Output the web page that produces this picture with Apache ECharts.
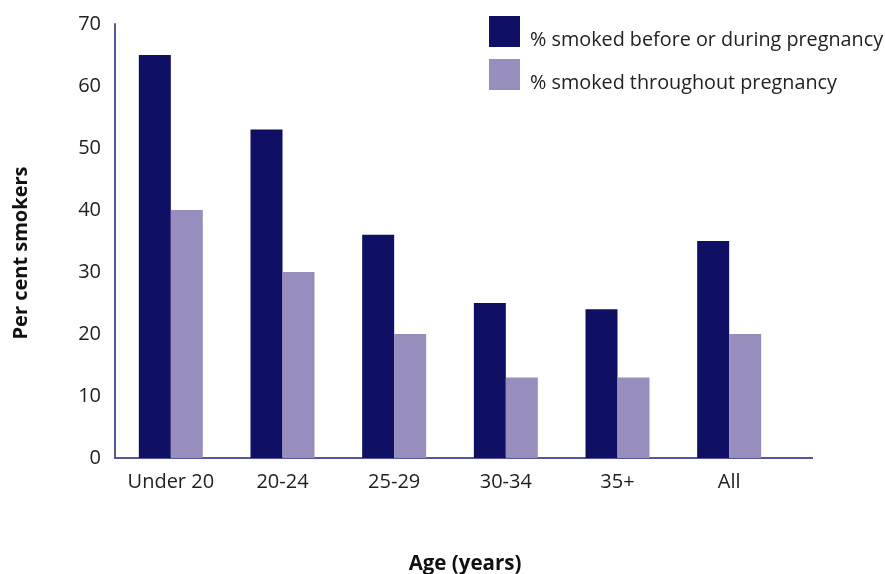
<!DOCTYPE html>
<html><head><meta charset="utf-8">
<script src="https://cdn.jsdelivr.net/npm/echarts@6/dist/echarts.min.js"></script>
<style>html,body{margin:0;padding:0;background:#fff}#c{width:885px;height:574px}</style>
</head><body><div id="c"></div>
<script>
var categories = ['Under 20', '20-24', '25-29', '30-34', '35+', 'All'];
var beforeOrDuring = [65, 53, 36, 25, 24, 35];
var throughout = [40, 30, 20, 13, 13, 20];
var seriesNames = ['% smoked before or during pregnancy', '% smoked throughout pregnancy'];
var yTicks = [0, 10, 20, 30, 40, 50, 60, 70];

var FONT = '"Open Sans", "Noto Sans", sans-serif';
var axisColor = '#56569a';
var chart = echarts.init(document.getElementById('c'), null, {renderer: 'canvas'});
chart.setOption({
  animation: false,
  textStyle: {fontFamily: FONT},
  grid: {left: 115, top: 24, width: 670, bottom: 116, containLabel: false, outerBoundsMode: 'none'},
  legend: {
    orient: 'vertical', left: 489, top: 16, padding: 0, itemWidth: 31, itemHeight: 31, itemGap: 9,
    icon: 'rect',
    formatter: '{t|{name}}',
    textStyle: {
      fontSize: 19.8, color: '#222', fontFamily: FONT,
      rich: {t: {fontSize: 19.8, color: '#222', fontFamily: FONT, padding: [17, 0, 0, 5]}}
    },
    data: seriesNames
  },
  xAxis: {
    type: 'category', data: categories,
    axisLine: {lineStyle: {color: axisColor, width: 2}},
    axisTick: {show: false},
    axisLabel: {fontSize: 20, color: '#222', margin: 14, fontFamily: FONT, interval: 0},
    name: 'Age (years)', nameLocation: 'middle', nameGap: 96,
    nameTextStyle: {fontSize: 20.5, fontWeight: 'bold', color: '#111', fontFamily: FONT, padding: [0, 0, 0, 30]}
  },
  yAxis: {
    type: 'value', min: yTicks[0], max: yTicks[yTicks.length - 1], interval: 10,
    axisLine: {show: true, lineStyle: {color: axisColor, width: 2}},
    axisTick: {show: false},
    splitLine: {show: false},
    axisLabel: {fontSize: 20, color: '#222', margin: 14, fontFamily: FONT},
    name: 'Per cent smokers', nameLocation: 'middle', nameGap: 84, nameRotate: 90,
    nameTextStyle: {fontSize: 20, fontWeight: 'bold', color: '#111', fontFamily: FONT, padding: [0, 24, 0, 0]}
  },
  graphic: [{
    type: 'line', z: 10,
    shape: {x1: 784, y1: 458, x2: 813, y2: 458},
    style: {stroke: axisColor, lineWidth: 2}
  }],
  series: [
    {name: seriesNames[0], type: 'bar', data: beforeOrDuring, barWidth: 32, barGap: '0%',
     itemStyle: {color: '#0f0f63'}},
    {name: seriesNames[1], type: 'bar', data: throughout, barWidth: 32, barGap: '0%',
     itemStyle: {color: '#978ebe'}}
  ]
});
</script></body></html>
